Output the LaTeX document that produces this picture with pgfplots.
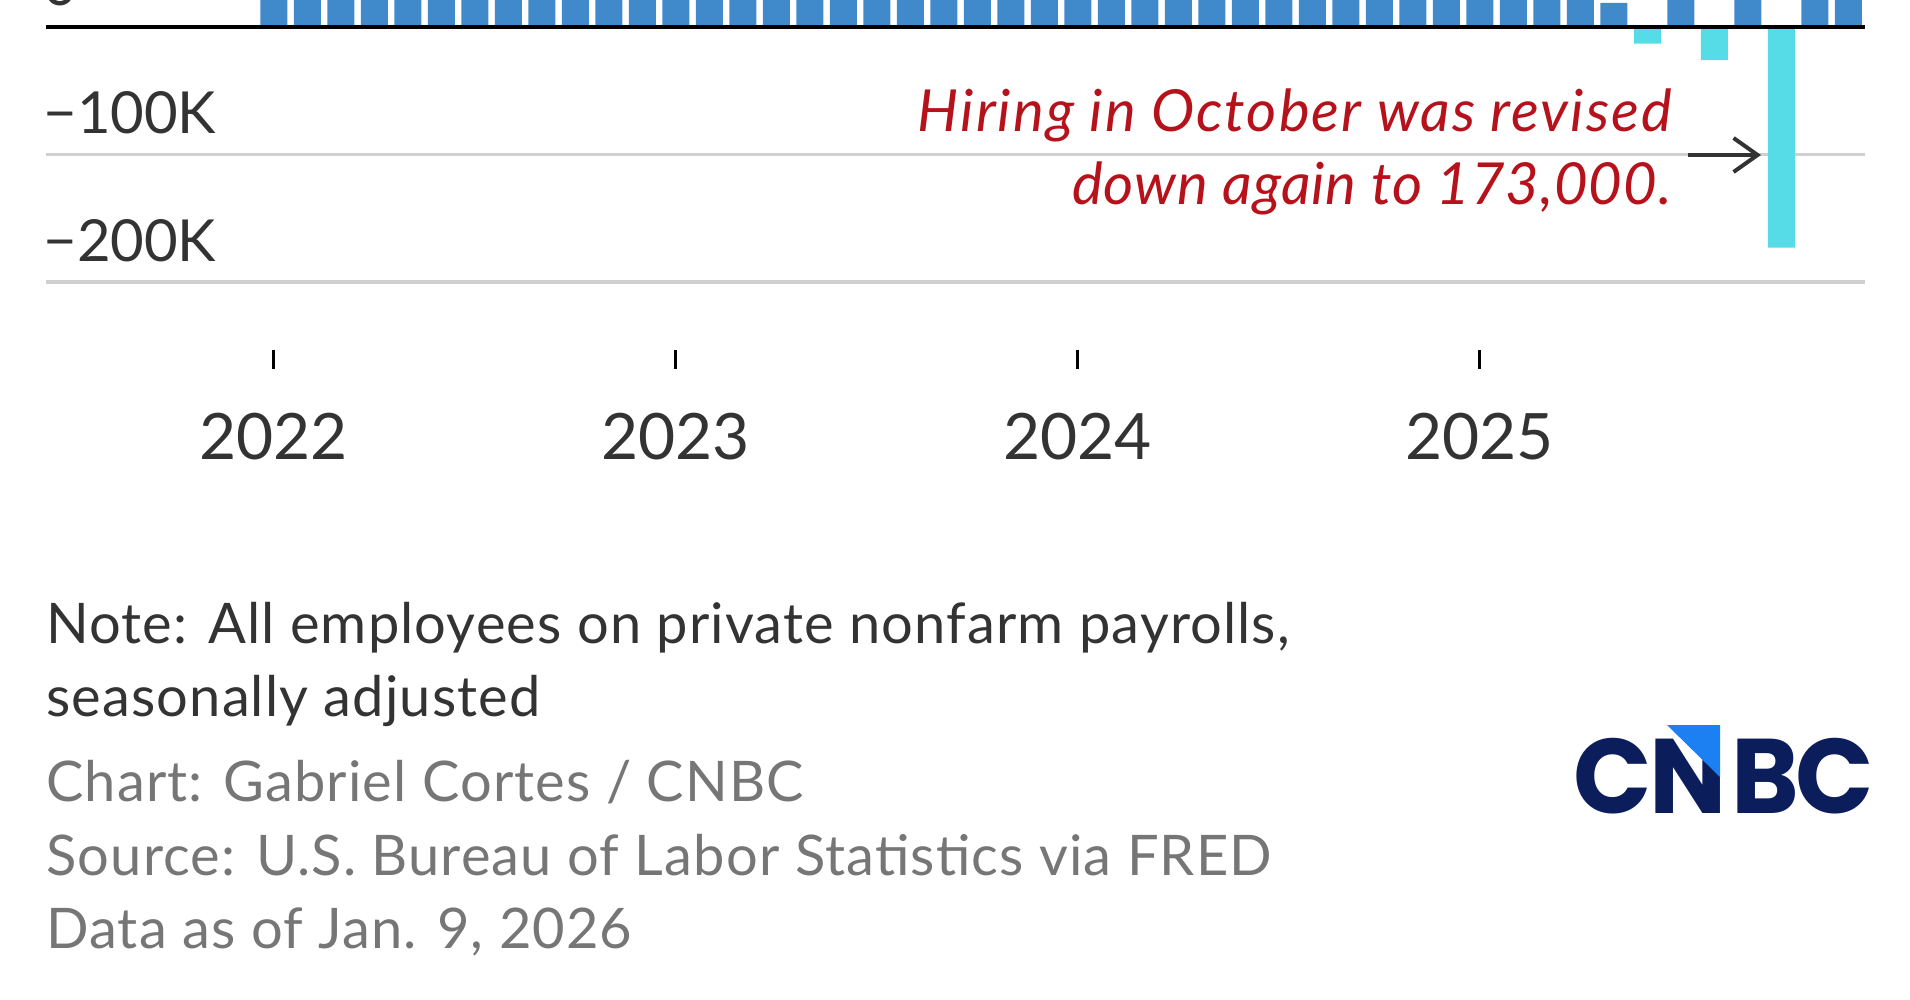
\documentclass[border=0pt]{standalone}
\usepackage{pgfplots}
\pgfplotsset{compat=1.18}
\usepackage{fontspec}
\setmainfont{Lato}
\newfontfamily\logofont{Poppins}
\usetikzlibrary{arrows.meta}
\definecolor{barblue}{HTML}{408ACC}
\definecolor{barcyan}{HTML}{56DCE6}
\definecolor{annored}{HTML}{B5121B}
\definecolor{navy}{HTML}{0B1E5B}
\definecolor{logoblue}{HTML}{1C7FF2}
\definecolor{gridgray}{HTML}{D0D0D0}
\definecolor{labcol}{HTML}{333333}
\definecolor{srcgray}{HTML}{767676}
\begin{document}
\begin{tikzpicture}
\begin{axis}[
  at={(23pt,-141pt)}, anchor=south west,
  scale only axis, width=909.5pt, height=141pt,
  xmin=-6.8, xmax=47.5, ymin=-200000, ymax=21176,
  axis line style={draw=none},
  xtick={0,12,24,36}, xticklabels={2022,2023,2024,2025},
  xtick pos=bottom, ytick pos=left,
  tick align=outside,
  major tick length=9.5pt,
  xtick style={draw=black, line width=1.3pt, yshift=-34pt},
  ytick style={draw=none},
  ymajorgrids, grid style={color=gridgray, line width=1.6pt},
  ytick={-200000,-100000,0}, yticklabels={−200K,−100K,0},
  scaled y ticks=false,
  yticklabel style={anchor=base west, inner sep=0pt, xshift=8pt, yshift=10.5pt, font=\fontsize{29}{29}\selectfont, text=labcol},
  xticklabel style={anchor=base, yshift=-79pt, font=\fontsize{32}{32}\selectfont, text=labcol},
  clip=true,
]
\addplot[ybar, bar width=13.5pt, bar shift=0pt, fill=barblue, draw=none] coordinates {
(0,504000) (1,714000) (2,398000) (3,368000) (4,386000) (5,370000) (6,568000) (7,352000) (8,350000) (9,324000) (10,290000) (11,239000)
(12,482000) (13,287000) (14,146000) (15,278000) (16,303000) (17,240000) (18,184000) (19,210000) (20,246000) (21,165000) (22,182000) (23,290000)
(24,119000) (25,222000) (26,246000) (27,108000) (28,216000) (29,87000) (30,78000) (31,71000) (32,240000) (33,44000) (34,261000) (35,323000)
(36,111000) (37,102000) (38,120000) (39,158000) (40,19000) (42,72000) (44,108000) (46,56000) (47,50000)
};
\addplot[ybar, bar width=13.5pt, bar shift=0pt, fill=barcyan, draw=none] coordinates {
(41,-13000) (43,-26000) (45,-173000)
};
\draw[black, line width=2pt] (axis cs:-6.8,0) -- (axis cs:47.5,0);
\end{axis}
\begin{scope}[x=0.5pt,y=-0.5pt]
\node[anchor=base east, inner sep=0pt, text=annored, font=\fontsize{29}{29}\selectfont\itshape\addfontfeatures{LetterSpace=3.5}] at (1672,132) {Hiring in October was revised};
\node[anchor=base east, inner sep=0pt, text=annored, font=\fontsize{29}{29}\selectfont\itshape\addfontfeatures{LetterSpace=1.6}] at (1672,205) {down again to 173,000.};
\draw[labcol, line width=2pt, -{Straight Barb[length=12pt,width=17pt]}] (1688,155) -- (1761,155);
\node[anchor=base west, inner sep=0pt, text=labcol, font=\fontsize{28}{28}\selectfont\addfontfeatures{LetterSpace=2}] at (46,643) {Note: All employees on private nonfarm payrolls,};
\node[anchor=base west, inner sep=0pt, text=labcol, font=\fontsize{28}{28}\selectfont\addfontfeatures{LetterSpace=2}] at (46,716) {seasonally adjusted};
\node[anchor=base west, inner sep=0pt, text=srcgray, font=\fontsize{28}{28}\selectfont\addfontfeatures{LetterSpace=2}] at (46,801) {Chart: Gabriel Cortes / CNBC};
\node[anchor=base west, inner sep=0pt, text=srcgray, font=\fontsize{28}{28}\selectfont\addfontfeatures{LetterSpace=2}] at (46,875) {Source: U.S. Bureau of Labor Statistics via FRED};
\node[anchor=base west, inner sep=0pt, text=srcgray, font=\fontsize{28}{28}\selectfont\addfontfeatures{LetterSpace=2}] at (46,948) {Data as of Jan. 9, 2026};
\begin{scope}[every node/.style={anchor=base, inner sep=0pt, text=navy, font=\fontsize{53}{53}\logofont\bfseries, xscale=0.97}]
\node at (1613,813) {C};
\node at (1688,813) {N};
\node at (1765,813) {B};
\node at (1835,813) {C};
\end{scope}
\fill[logoblue] (1667,725) -- (1720,725) -- (1720,777) -- cycle;
\end{scope}
\pgfresetboundingbox
\path[use as bounding box] (0,0) rectangle (955pt,-500pt);
\end{tikzpicture}
\end{document}
